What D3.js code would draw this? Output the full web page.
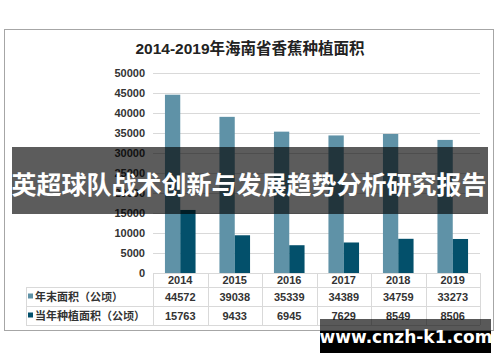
<!DOCTYPE html>
<html>
<head>
<meta charset="utf-8">
<script src="https://cdn.jsdelivr.net/npm/d3@7"></script>
<style>
  body { margin: 0; background: #fff; }
  svg text { font-family: "Liberation Sans", Arial, "Noto Sans CJK SC", sans-serif; }
</style>
</head>
<body>
<svg id="chart" width="500" height="362"></svg>
<script>
var years = ["2014", "2015", "2016", "2017", "2018", "2019"];
var seriesNames = ["年末面积（公顷）", "当年种植面积（公顷）"];
var yearEnd = [44572, 39038, 35339, 34389, 34759, 33273];
var planted = [15763, 9433, 6945, 7629, 8549, 8506];
var yTicks = [0, 5000, 10000, 15000, 20000, 25000, 30000, 35000, 40000, 45000, 50000];
var colors = ["#5f92a7", "#03506b"];

var svg = d3.select("#chart");

// chart frame
svg.append("rect")
    .attr("x", 4.5).attr("y", 29.5)
    .attr("width", 489).attr("height", 301)
    .attr("fill", "#fff")
    .attr("stroke", "#a6a6a6");

svg.append("text")
    .attr("x", 250).attr("y", 54)
    .attr("text-anchor", "middle")
    .attr("font-size", 15.5).attr("font-weight", "bold")
    .attr("fill", "#222")
    .text("2014-2019年海南省香蕉种植面积");

var x = d3.scaleBand().domain(years).range([153, 480]);
var y = d3.scaleLinear().domain([0, 50000]).range([273, 73]);

// grid
svg.append("g").selectAll("line")
    .data(yTicks.slice(1))
    .enter().append("line")
    .attr("x1", 153).attr("x2", 480)
    .attr("y1", function (d) { return Math.round(y(d)) + 0.5; })
    .attr("y2", function (d) { return Math.round(y(d)) + 0.5; })
    .attr("stroke", "#d9d9d9");

var yAxis = svg.append("g")
    .attr("transform", "translate(145 0)")
    .call(d3.axisLeft(y).tickValues(yTicks).tickFormat(d3.format("d")).tickSize(0).tickPadding(0));
yAxis.select(".domain").remove();
yAxis.selectAll("text")
    .attr("font-size", 11).attr("font-weight", "bold")
    .attr("fill", "#333")
    .style("font-family", "'Liberation Sans', Arial, sans-serif");

// bars
var barW = 15.3;
var series = [yearEnd, planted];
series.forEach(function (vals, s) {
    svg.append("g").selectAll("rect")
        .data(vals)
        .enter().append("rect")
        .attr("x", function (d, i) { return x(years[i]) + x.bandwidth() / 2 - barW + s * barW; })
        .attr("y", function (d) { return y(d); })
        .attr("width", barW)
        .attr("height", function (d) { return y(0) - y(d); })
        .attr("fill", colors[s]);
});

// data table
var grid = svg.append("g").attr("stroke", "#d9d9d9").attr("fill", "none");
grid.append("line").attr("x1", 153).attr("x2", 480).attr("y1", 273.5).attr("y2", 273.5);
[287, 306, 325].forEach(function (yy) {
    grid.append("line").attr("x1", 26).attr("x2", 480).attr("y1", yy + 0.5).attr("y2", yy + 0.5);
});
grid.append("line").attr("x1", 26.5).attr("x2", 26.5).attr("y1", 287).attr("y2", 325);
years.forEach(function (yr) {
    grid.append("line").attr("x1", Math.round(x(yr)) + 0.5).attr("x2", Math.round(x(yr)) + 0.5)
        .attr("y1", 273).attr("y2", 325);
});
grid.append("line").attr("x1", 480.5).attr("x2", 480.5).attr("y1", 273).attr("y2", 325);

var cellText = function (sel, yy, txt) {
    sel.append("g").selectAll("text")
        .data(txt)
        .enter().append("text")
        .attr("x", function (d, i) { return x(years[i]) + x.bandwidth() / 2; })
        .attr("y", yy)
        .attr("text-anchor", "middle")
        .attr("font-size", 11).attr("font-weight", "bold")
        .attr("fill", "#333")
        .text(function (d) { return d; });
};
cellText(svg, 284, years);
cellText(svg, 301, yearEnd);
cellText(svg, 320, planted);

seriesNames.forEach(function (name, s) {
    var cy = s === 0 ? 296.5 : 315.5;
    svg.append("rect")
        .attr("x", 28).attr("y", cy - 3)
        .attr("width", 5).attr("height", 5)
        .attr("fill", colors[s]);
    svg.append("text")
        .attr("x", 35).attr("y", cy + 4)
        .attr("font-size", 11).attr("font-weight", "bold")
        .attr("fill", "#333")
        .text(name);
});

// overlay banner
svg.append("rect")
    .attr("x", 12).attr("y", 147)
    .attr("width", 476).attr("height", 67)
    .attr("fill", "#000").attr("fill-opacity", 0.64);
svg.append("text")
    .attr("x", 249).attr("y", 194)
    .attr("text-anchor", "middle")
    .attr("font-size", 25).attr("font-weight", "bold")
    .attr("fill", "#fff")
    .style("font-family", "'Noto Sans CJK SC', sans-serif")
    .text("英超球队战术创新与发展趋势分析研究报告");

// watermark
svg.append("rect")
    .attr("x", 320).attr("y", 319)
    .attr("width", 171).attr("height", 34)
    .attr("fill", "#000").attr("fill-opacity", 0.65);
svg.append("rect")
    .attr("x", 320).attr("y", 331)
    .attr("width", 171).attr("height", 22)
    .attr("fill", "#000");
svg.append("text")
    .attr("x", 406).attr("y", 343)
    .attr("text-anchor", "middle")
    .attr("font-size", 17).attr("font-weight", "bold")
    .attr("fill", "#fff")
    .style("font-family", "'DejaVu Sans', sans-serif")
    .text("www.cnzh-k1.com");
</script>
</body>
</html>
